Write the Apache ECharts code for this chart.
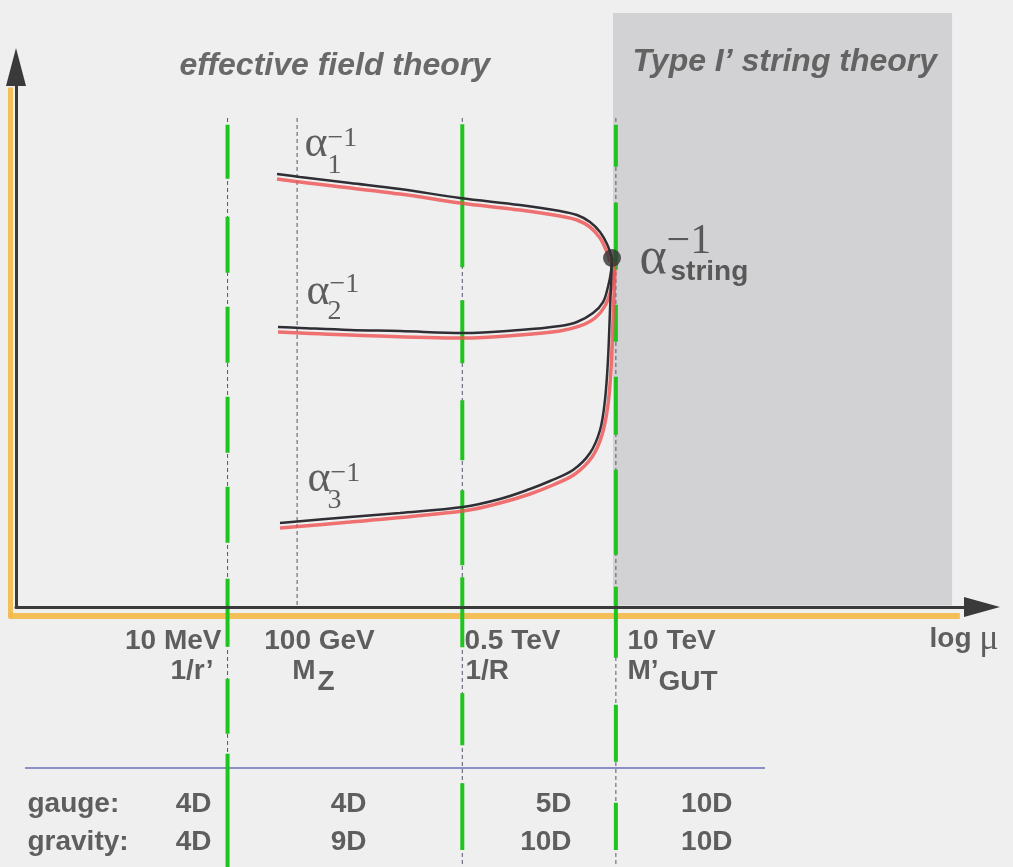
<!DOCTYPE html>
<html>
<head>
<meta charset="utf-8">
<script src="https://cdn.jsdelivr.net/npm/echarts@6.0.0/dist/echarts.min.js"></script>
<style>
  html, body { margin: 0; padding: 0; background: #efefef; }
  #chart { width: 1013px; height: 867px; }
</style>
</head>
<body>
<div id="chart"></div>
<script>
// ---------- data (schematic units: log μ on 0–100, α⁻¹ on 0–100) ----------
const energyLabels = ['10 MeV', '100 GeV', '0.5 TeV', '10 TeV'];
const thresholdX   = [21.9, 29.1, 46.2, 62.1];        // 1/r′, M_Z, 1/R, M′_GUT
const stringRegime = [61.8, 96.9];                     // Type I′ string theory range of log μ
const gaugeDims    = ['4D', '4D', '5D', '10D'];
const gravityDims  = ['4D', '9D', '10D', '10D'];

// running of the inverse couplings: [log μ, α⁻¹]
const alpha1 = [[27.02,80.19],[29.40,79.63],[34.58,78.52],[39.75,77.41],[45.96,75.74],[52.17,74.44],
                [56.31,73.33],[58.07,72.59],[59.42,71.30],[60.46,69.44],[61.18,67.22],[61.70,64.63]];
const alpha2 = [[27.12,51.85],[29.40,51.67],[34.58,51.30],[39.75,51.11],[46.27,50.74],[52.17,51.30],
                [56.31,52.04],[58.07,52.78],[59.73,54.44],[60.77,56.48],[61.28,59.26],[61.59,62.04],[61.70,64.63]];
const alpha3 = [[27.33,15.56],[34.58,16.67],[39.75,17.41],[46.27,18.52],[50.10,20.00],[53.21,21.85],
                [55.28,23.33],[57.66,25.37],[59.42,28.52],[60.46,32.78],[60.97,38.33],[61.28,45.74],
                [61.49,55.00],[61.70,64.63]];
// second evaluation of the same couplings
const alpha1Alt = [[27.02,79.26],[29.40,78.70],[39.75,76.48],[45.96,74.81],[52.17,73.52],[56.31,72.41],
                   [58.07,71.67],[59.42,70.37],[60.46,68.33],[61.08,66.11],[61.49,63.89]];
const alpha2Alt = [[27.12,50.93],[34.58,50.37],[46.27,49.81],[52.17,50.37],[56.31,51.11],[58.39,52.04],
                   [59.94,53.52],[60.97,55.74],[61.59,58.70],[61.90,62.04],[62.01,63.89]];
const alpha3Alt = [[27.33,14.63],[34.58,15.74],[46.27,17.78],[50.10,19.26],[53.21,20.93],[55.59,22.59],
                   [57.87,24.63],[59.63,27.78],[60.66,31.85],[61.28,37.41],[61.59,43.89],[61.80,53.15],[62.01,62.41]];
const unification = [61.70, 64.63];

// ---------- layout ----------
const W = 1013, H = 867;
const MAIN = { left: 16, right: 31, top: 67, bottom: 260 };
const pxX = (W - MAIN.left - MAIN.right) / 100;
const pxY = (H - MAIN.top - MAIN.bottom) / 100;
// full-canvas overlay sharing the same units as the main plot
const OV = {
  xMin: -MAIN.left / pxX, xMax: 100 + MAIN.right / pxX,
  yMin: -MAIN.bottom / pxY, yMax: 100 + MAIN.top / pxY
};

const INK = '#3a3a3a';
const SANS = 'Liberation Sans';
const SERIF = 'Liberation Serif';
const sansBold = { fontFamily: SANS, fontWeight: 'bold', fontSize: 28, color: INK };
const titleStyle = { fontFamily: SANS, fontWeight: 'bold', fontStyle: 'italic', fontSize: 32, color: '#474747' };
const serifBig = { fontFamily: SERIF, fontSize: 44, color: INK };
const serifSmall = { fontFamily: SERIF, fontSize: 28, color: INK };

const rowTick = -6.48, rowSub = -12.04, rowSubLow = -14.1;
const rowGauge = -36.67, rowGravity = -43.7;
const colRight = [20.29, 36.34, 57.56, 74.22];

const texts = [
  { x: 16.98, y: 100.0,  t: 'effective field theory', s: titleStyle },
  { x: 63.87, y: 100.74, t: 'Type I’ string theory',  s: titleStyle },

  { x: 21.33, y: rowTick, t: energyLabels[0], s: sansBold, a: 'right' },
  { x: 20.50, y: rowSub,  t: '1/r’',          s: sansBold, a: 'right' },
  { x: 31.47, y: rowTick, t: energyLabels[1], s: sansBold, a: 'center' },
  { x: 31.06, y: rowSub,  t: 'M',             s: sansBold, a: 'right' },
  { x: 31.26, y: rowSubLow, t: 'Z',           s: sansBold },
  { x: 46.48, y: rowTick, t: energyLabels[2], s: sansBold },
  { x: 46.58, y: rowSub,  t: '1/R',           s: sansBold },
  { x: 63.35, y: rowTick, t: energyLabels[3], s: sansBold },
  { x: 63.35, y: rowSub,  t: 'M’',            s: sansBold },
  { x: 66.56, y: rowSubLow, t: 'GUT',         s: sansBold },
  { x: 94.62, y: -6.11,   t: '{lg|log} {mu|μ}', s: sansBold,
    rich: { lg: sansBold, mu: { fontFamily: SERIF, fontWeight: 'normal', fontSize: 36, color: INK } } },

  { x: 1.24, y: rowGauge,   t: 'gauge:',   s: sansBold },
  { x: 1.24, y: rowGravity, t: 'gravity:', s: sansBold },

  // coupling labels
  { x: 29.92, y: 85.6, t: 'α', s: serifBig },
  { x: 32.3, y: 86.67, t: '−1', s: serifSmall },
  { x: 32.3, y: 81.67, t: '1', s: serifSmall },
  { x: 30.12, y: 58.2, t: 'α', s: serifBig },
  { x: 32.5, y: 59.63, t: '−1', s: serifSmall },
  { x: 32.3, y: 54.63, t: '2', s: serifSmall },
  { x: 30.23, y: 23.6, t: 'α', s: serifBig },
  { x: 32.6, y: 24.63, t: '−1', s: serifSmall },
  { x: 32.3, y: 19.63, t: '3', s: serifSmall },
  { x: 64.60, y: 64.2, t: 'α', s: { fontFamily: SERIF, fontSize: 52, color: INK } },
  { x: 67.39, y: 67.59, t: '−1', s: { fontFamily: SERIF, fontSize: 42, color: INK } },
  { x: 67.81, y: 61.85, t: 'string', s: sansBold }
];
gaugeDims.forEach((d, i) => texts.push({ x: colRight[i], y: rowGauge, t: d, s: sansBold, a: 'right' }));
gravityDims.forEach((d, i) => texts.push({ x: colRight[i], y: rowGravity, t: d, s: sansBold, a: 'right' }));

function seg(data, style, z) {
  return {
    type: 'line', xAxisIndex: 1, yAxisIndex: 1, data, symbol: 'none', silent: true,
    lineStyle: style, z: z || 2, animation: false
  };
}
function curve(data, style, z) {
  return {
    type: 'line', xAxisIndex: 0, yAxisIndex: 0, data, symbol: 'none', silent: true,
    smooth: 0.35, lineStyle: style, z, animation: false
  };
}

const THIN = { color: '#55556a', width: 1, type: [4, 3] };
// hand-drawn green threshold markers: extent and dash rhythm of each stroke (top → bottom)
const greenX = [thresholdX[0], thresholdX[2], thresholdX[3]];
const greenSpan = [[89.3, -48.2], [89.4, -45.0], [89.3, -45.0]];
const greenDash = [
  [54, 38, 56, 34, 56, 34, 56, 34, 56, 36, 68, 32, 55, 20, 140],
  [143, 33, 63, 37, 60, 30, 75, 12, 70, 46, 52, 38, 80],
  [42, 36, 67, 35, 37, 35, 58, 35, 85, 32, 71, 47, 57, 41, 60]
];

const series = [
  // shaded string-theory regime
  {
    type: 'line', xAxisIndex: 1, yAxisIndex: 1, data: [], silent: true, z: 1,
    markArea: {
      silent: true,
      itemStyle: { color: '#d2d2d4' },
      data: [[{ coord: [stringRegime[0], 0.3] }, { coord: [stringRegime[1], 110] }]]
    }
  },
  // orange underlay of the axes
  seg([[OV.xMin + 0.9, -1.67], [97.7, -1.67]], { color: '#f3b947', width: 6, opacity: 0.9 }, 1),
  seg([[-0.57, -2.0], [-0.57, 96.2]], { color: '#f3b947', width: 5, opacity: 0.9 }, 1),
  // table rule
  seg([[0.93, -29.81], [77.54, -29.81]], { color: '#8d8dc8', width: 2 }, 2),
  // M_Z dotted marker
  seg([[thresholdX[1], 90.56], [thresholdX[1], 0]], THIN, 2)
];
greenX.forEach((x, i) => {
  series.push(seg([[x, 90.56], [x, OV.yMin]], THIN, 2));
  series.push(seg([[x, greenSpan[i][0]], [x, greenSpan[i][1]]],
    { color: '#1fc41f', width: 4, type: greenDash[i] }, 3));
});
const RED = { color: '#ef5050', width: 3.5, opacity: 0.8 };
const BLACK = { color: '#2e2e34', width: 2.5 };
[alpha1Alt, alpha2Alt, alpha3Alt].forEach(d => series.push(curve(d, RED, 4)));
[alpha1, alpha2, alpha3].forEach(d => series.push(curve(d, BLACK, 5)));
series.push({
  type: 'scatter', xAxisIndex: 0, yAxisIndex: 0, data: [unification], symbolSize: 18,
  itemStyle: { color: '#333333' }, z: 6, silent: true, animation: false
});
series.push({
  type: 'scatter', xAxisIndex: 1, yAxisIndex: 1, symbolSize: 1, z: 20, silent: true, animation: false,
  itemStyle: { color: 'rgba(0,0,0,0)' },
  data: texts.map(o => ({
    value: [o.x, o.y],
    label: Object.assign({
      show: true, position: [0, 0], formatter: o.t,
      align: o.a || 'left', verticalAlign: 'middle', rich: o.rich
    }, o.s)
  }))
});

const axisLine = (size) => ({
  show: true, onZero: false, symbol: ['none', 'triangle'], symbolSize: size,
  lineStyle: { color: '#3a3a3a', width: 3 }
});

const chart = echarts.init(document.getElementById('chart'), null, { renderer: 'canvas' });
chart.setOption({
  backgroundColor: '#efefef',
  animation: false,
  grid: [
    { left: MAIN.left, right: MAIN.right, top: MAIN.top, bottom: MAIN.bottom },
    { left: 0, right: 0, top: 0, bottom: 0 }
  ],
  xAxis: [
    { gridIndex: 0, type: 'value', min: 0, max: 100, z: 10,
      axisLine: axisLine([20, 36]), axisTick: { show: false }, axisLabel: { show: false }, splitLine: { show: false } },
    { gridIndex: 1, type: 'value', min: OV.xMin, max: OV.xMax, show: false }
  ],
  yAxis: [
    { gridIndex: 0, type: 'value', min: 0, max: 100, z: 10,
      axisLine: axisLine([20, 38]), axisTick: { show: false }, axisLabel: { show: false }, splitLine: { show: false } },
    { gridIndex: 1, type: 'value', min: OV.yMin, max: OV.yMax, show: false }
  ],
  series
});
</script>
</body>
</html>
